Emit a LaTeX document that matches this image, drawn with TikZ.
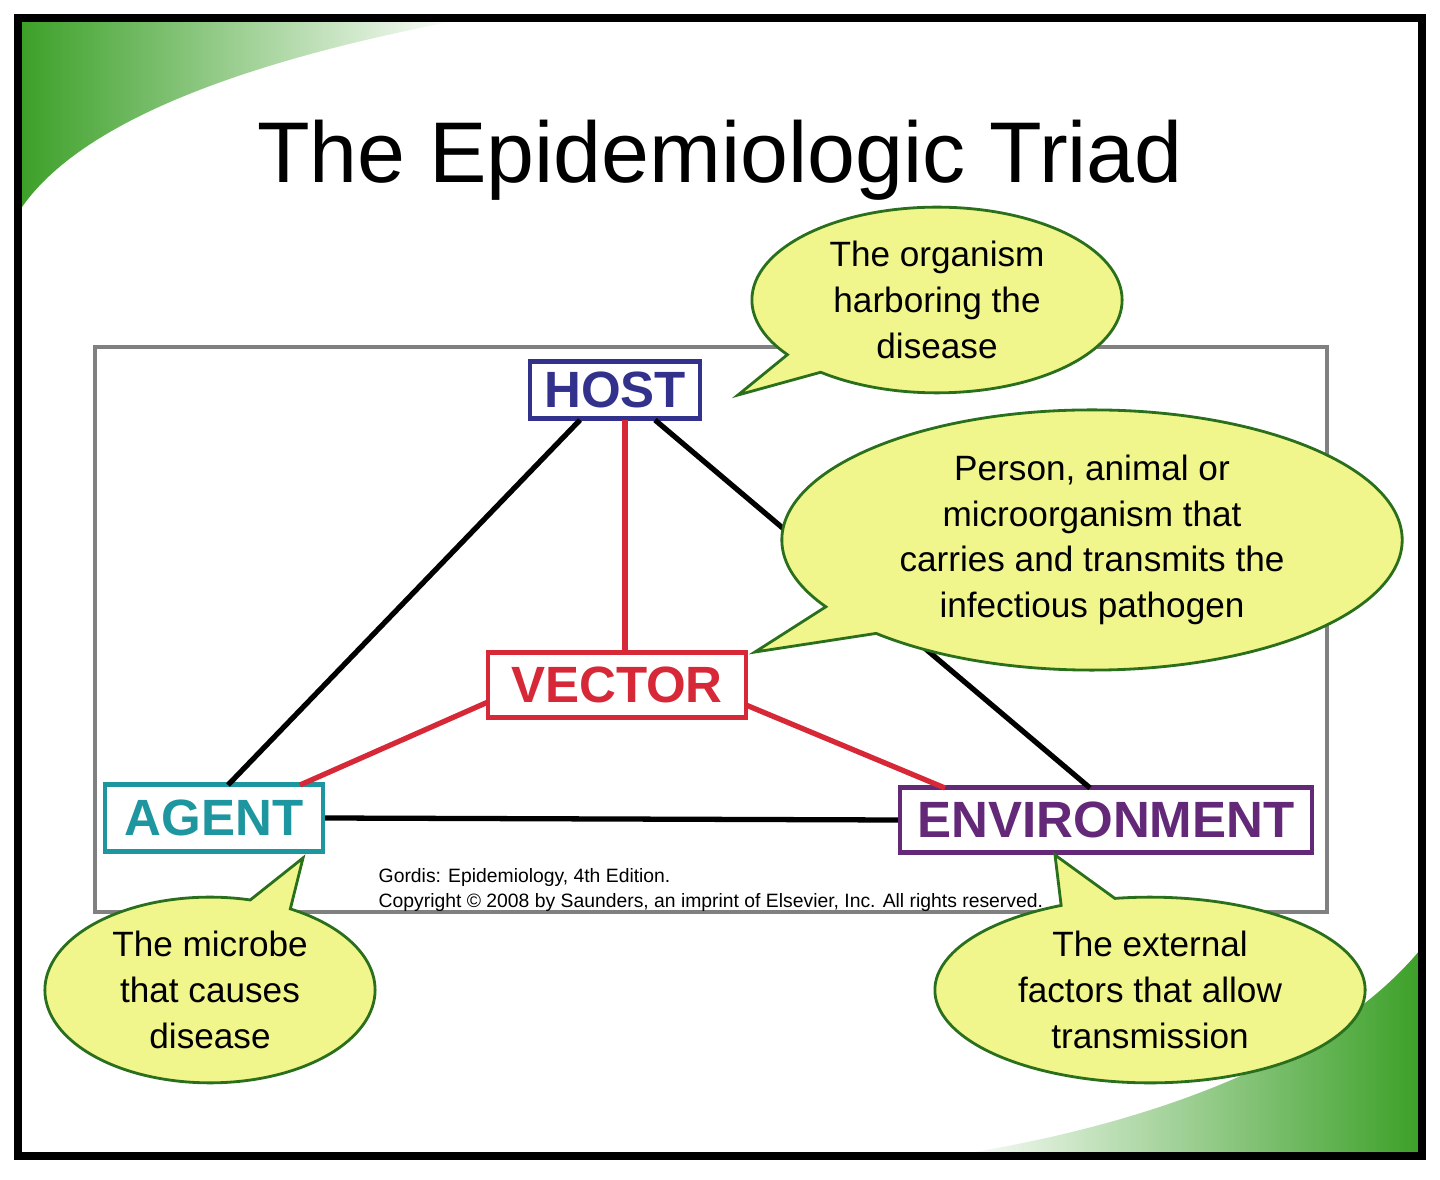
\documentclass[tikz,border=0pt]{standalone}
\usepackage{fontspec}
\setmainfont{Liberation Sans}
\usetikzlibrary{shapes.callouts,positioning}
\definecolor{hostblue}{RGB}{50,50,140}
\definecolor{vecred}{RGB}{215,40,55}
\definecolor{agteal}{RGB}{30,150,160}
\definecolor{envpurple}{RGB}{100,40,120}
\definecolor{bubble}{RGB}{240,245,140}
\definecolor{leaf}{RGB}{60,160,40}
\tikzset{
  term/.style={draw, line width=1.2pt, font=\fontsize{14.5}{14.5}\selectfont\bfseries, inner sep=3pt},
  bubbletext/.style={ellipse callout, draw=leaf!70!black, fill=bubble, line width=0.8pt,
    align=center, font=\fontsize{10}{13}\selectfont, inner sep=2pt},
  link/.style={line width=1.5pt}
}
\begin{document}
\begin{tikzpicture}[x=0.01cm,y=-0.01cm]
  \useasboundingbox (0,0) rectangle (1440,1180);
  \fill[white] (0,0) rectangle (1440,1180);
  % green swooshes
  \shade[left color=leaf, right color=white] (20,20) -- (460,20) .. controls (250,60) and (80,120) .. (20,210) -- cycle;
  \shade[left color=white, right color=leaf] (1420,950) .. controls (1320,1070) and (1120,1130) .. (950,1156) -- (1420,1156) -- cycle;
  \draw[line width=2.5pt] (18,18) rectangle (1422,1156);
  % title
  \node (title) at (720,160) {\fontsize{24.5}{24.5}\selectfont The Epidemiologic Triad};
  \draw[gray, line width=1pt] (95,347) rectangle (1327,912);
  % terms
  \node[term, hostblue, minimum width=1.7cm, minimum height=0.56cm] (host) at (615,390) {HOST};
  \node[term, vecred, minimum width=2.58cm, minimum height=0.65cm] (vector) at (617,685) {VECTOR};
  \node[term, agteal, minimum width=2.18cm, minimum height=0.67cm] (agent) at (214,818) {AGENT};
  \node[term, envpurple, minimum width=4.12cm, minimum height=0.65cm] (env) at (1106,820) {ENVIRONMENT};
  % link ends
  \coordinate (hl) at (580,420);
  \coordinate (hr) at (655,420);
  \coordinate (hm) at (625,420);
  \coordinate (al) at (228,785);
  \coordinate (ar) at (300,785);
  \coordinate (el) at (945,788);
  \coordinate (er) at (1090,788);
  \coordinate (vl) at (488,702);
  \coordinate (vr) at (746,705);
  \coordinate (vt) at (625,652);
  % links
  \draw[link] (hl) -- (al);
  \draw[link] (hr) -- (er);
  \draw[link] (agent.east) -- (env.west);
  \draw[link, vecred] (hm) -- (vt);
  \draw[link, vecred] (vl) -- (ar);
  \draw[link, vecred] (vr) -- (el);
  % callouts
  \node[bubbletext, minimum width=3.7cm, minimum height=1.5cm, callout absolute pointer={(738,395)}] (hostnote) at (937,300) {The organism\\harboring the\\disease};
  \node[bubbletext, minimum width=6.2cm, minimum height=1.9cm, callout absolute pointer={(755,652)}] (vecnote) at (1092,540) {Person, animal or\\microorganism that\\carries and transmits the\\infectious pathogen};
  \node[bubbletext, minimum width=3.3cm, minimum height=1.5cm, callout absolute pointer={(303,858)}] (agnote) at (210,990) {The microbe\\that causes\\disease};
  \node[bubbletext, minimum width=4.3cm, minimum height=1.5cm, callout absolute pointer={(1055,855)}] (envnote) at (1150,990) {The external\\factors that allow\\transmission};
  % source
  \node[anchor=north west, align=left, font=\fontsize{5.5}{7}\selectfont, inner sep=0pt] (source) at (378,868) {Gordis: Epidemiology, 4th Edition.\\Copyright \copyright{} 2008 by Saunders, an imprint of Elsevier, Inc. All rights reserved.};
\end{tikzpicture}
\end{document}
